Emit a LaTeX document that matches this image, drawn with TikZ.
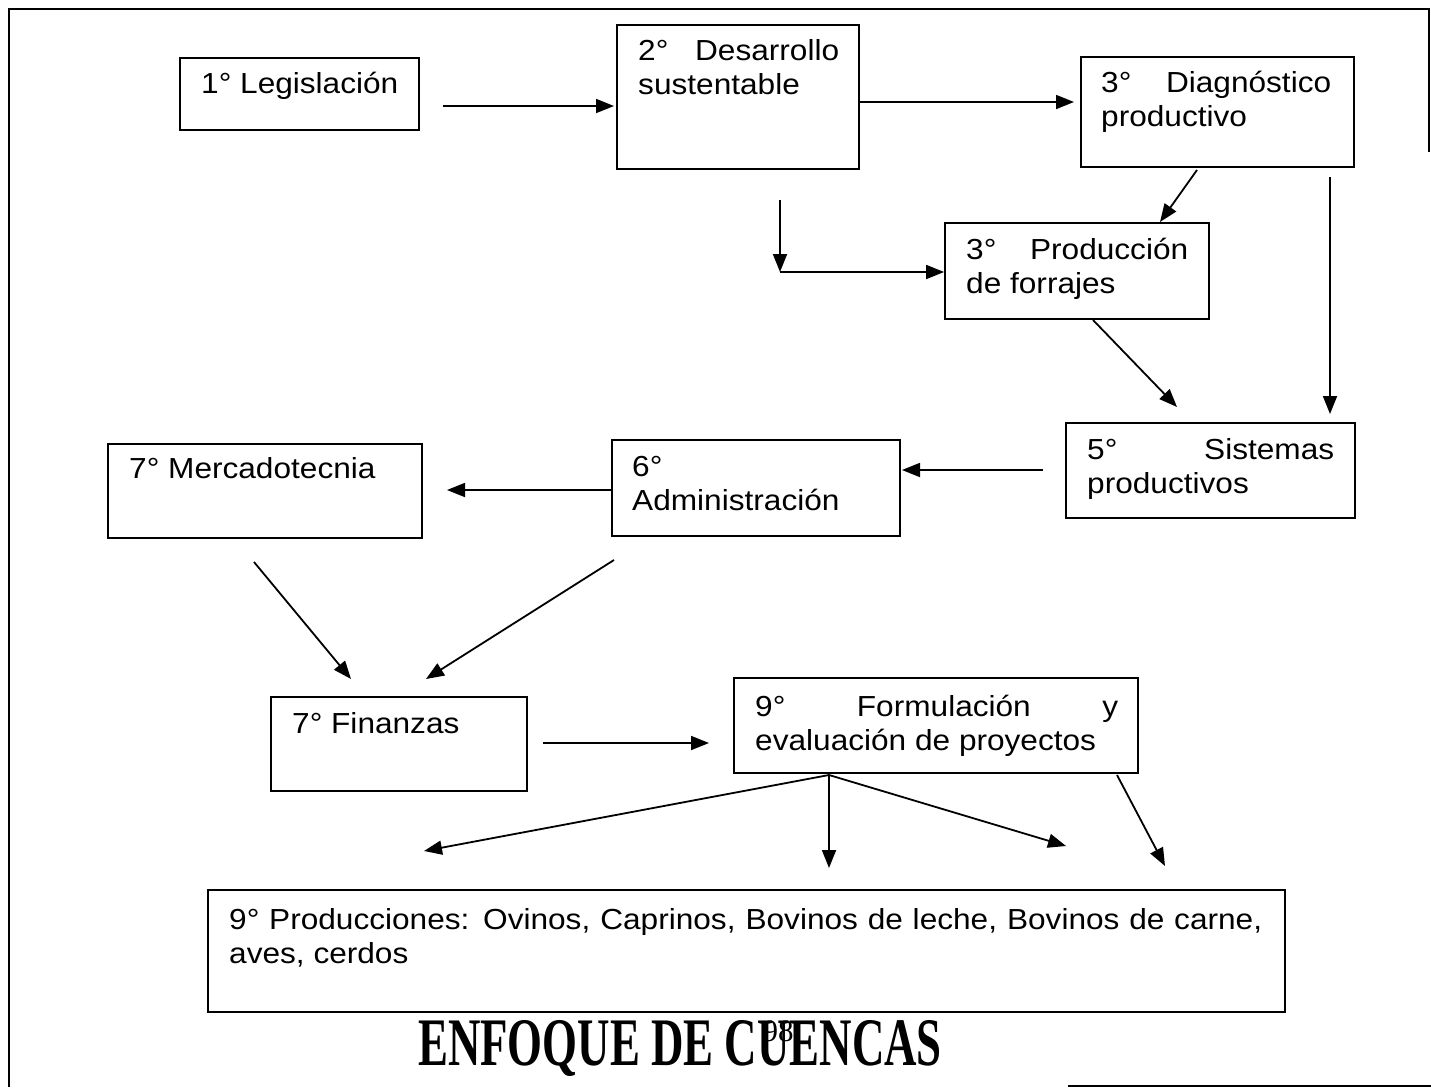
\documentclass[tikz,border=0pt]{standalone}
\usepackage{fontspec}
\usepackage{graphicx}
\setmainfont{Liberation Sans}[FakeStretch=1.09]
\newfontfamily\titlefont{Liberation Serif}
\usetikzlibrary{arrows.meta}
\newcommand\twol[2]{\vtop{\hbox{#1}\hbox{#2}}}
\begin{document}
\begin{tikzpicture}[x=1pt,y=-1pt,
  box/.style={draw, line width=1.8pt, rectangle, inner sep=0pt},
  txt/.style={anchor=base west, inner sep=0pt, font=\fontsize{29}{34}\selectfont},
  arr/.style={line width=1.8pt, -{Triangle[length=18pt,width=14pt]}},
  frameline/.style={line width=2pt}]
\useasboundingbox (0,0) rectangle (1431,1087);
% frame
\draw[frameline] (9,1087) -- (9,9) -- (1429,9) -- (1429,152);
\draw[frameline] (1068,1086) -- (1431,1086);
% boxes
\node[box, minimum width=239, minimum height=72]  (b1)  at (299.5,94) {};
\node[box, minimum width=242, minimum height=144] (b2)  at (738,97) {};
\node[box, minimum width=273, minimum height=110] (b3)  at (1217.5,112) {};
\node[box, minimum width=264, minimum height=96]  (b4)  at (1077,271) {};
\node[box, minimum width=289, minimum height=95]  (b5)  at (1210.5,470.5) {};
\node[box, minimum width=288, minimum height=96]  (b6)  at (756,488) {};
\node[box, minimum width=314, minimum height=94]  (b7)  at (265,491) {};
\node[box, minimum width=256, minimum height=94]  (b8)  at (399,744) {};
\node[box, minimum width=404, minimum height=95]  (b9)  at (936,725.5) {};
\node[box, minimum width=1077, minimum height=122] (b10) at (746.5,951) {};
% texts
\node[txt] (t1) at (201,93) {1° Legislación};
\node[txt] (t2) at (638,60) {\twol{\hbox to 201pt{2°\hfill Desarrollo}}{sustentable}};
\node[txt] (t3) at (1101,92) {\twol{\hbox to 230pt{3°\hfill Diagnóstico}}{productivo}};
\node[txt] (t4) at (966,259) {\twol{\hbox to 222pt{3°\hfill Producción}}{de forrajes}};
\node[txt] (t5) at (1087,459) {\twol{\hbox to 247pt{5°\hfill Sistemas}}{productivos}};
\node[txt] (t6) at (632,476) {\twol{6°}{Administración}};
\node[txt] (t7) at (129,478) {7° Mercadotecnia};
\node[txt] (t8) at (292,733) {7° Finanzas};
\node[txt] (t9) at (755,716) {\twol{\hbox to 363pt{9°\hfill Formulación\hfill y}}{evaluación de proyectos}};
\node[txt] (t10) at (229,929) {\twol{\hbox to 1033pt{9° Producciones: Ovinos, Caprinos, Bovinos de leche, Bovinos de carne,}}{aves, cerdos}};
% title
\node[anchor=base, inner sep=0pt] (title) at (680,1065) {\titlefont\bfseries\fontsize{68}{70}\selectfont\scalebox{0.66}[1]{ENFOQUE DE CUENCAS}};
\node[anchor=base, inner sep=0pt] (pg) at (778,1041) {\titlefont\fontsize{31}{31}\selectfont 98};
% connector coordinates
\coordinate (a1s) at (443,106);
\coordinate (a1e) at (614,106);
\coordinate (a2e) at (1074,102);
\coordinate (a3s) at (1197,170);
\coordinate (a3e) at (1160,222);
\coordinate (a4s) at (1330,177);
\coordinate (a4e) at (1330,414);
\coordinate (a5s) at (780,200);
\coordinate (a5c) at (780,272);
\coordinate (a6s) at (1093,320);
\coordinate (a6e) at (1177,407);
\coordinate (a7s) at (1043,470);
\coordinate (a7e) at (902,470);
\coordinate (a8s) at (611,490);
\coordinate (a8e) at (447,490);
\coordinate (a9s) at (254,562);
\coordinate (a9e) at (351,679);
\coordinate (a10s) at (614,560);
\coordinate (a10e) at (426,679);
\coordinate (a11s) at (543,743);
\coordinate (a11e) at (709,743);
\coordinate (a12s) at (829,775);
\coordinate (a12e) at (424,851);
\coordinate (a13e) at (829,868);
\coordinate (a14e) at (1066,846);
\coordinate (a15s) at (1117,775);
\coordinate (a15e) at (1165,866);
% connectors
\draw[arr] (a1s) -- (a1e);
\draw[arr] (b2.east |- a2e) -- (a2e);
\draw[arr] (a3s) -- (a3e);
\draw[arr] (a4s) -- (a4e);
\draw[arr] (a5s) -- (a5c);
\draw[arr] (a5c) -- (b4.west |- a5c);
\draw[arr] (a6s) -- (a6e);
\draw[arr] (a7s) -- (a7e);
\draw[arr] (a8s) -- (a8e);
\draw[arr] (a9s) -- (a9e);
\draw[arr] (a10s) -- (a10e);
\draw[arr] (a11s) -- (a11e);
\draw[arr] (a12s) -- (a12e);
\draw[arr] (a12s) -- (a13e);
\draw[arr] (a12s) -- (a14e);
\draw[arr] (a15s) -- (a15e);
\end{tikzpicture}
\end{document}
